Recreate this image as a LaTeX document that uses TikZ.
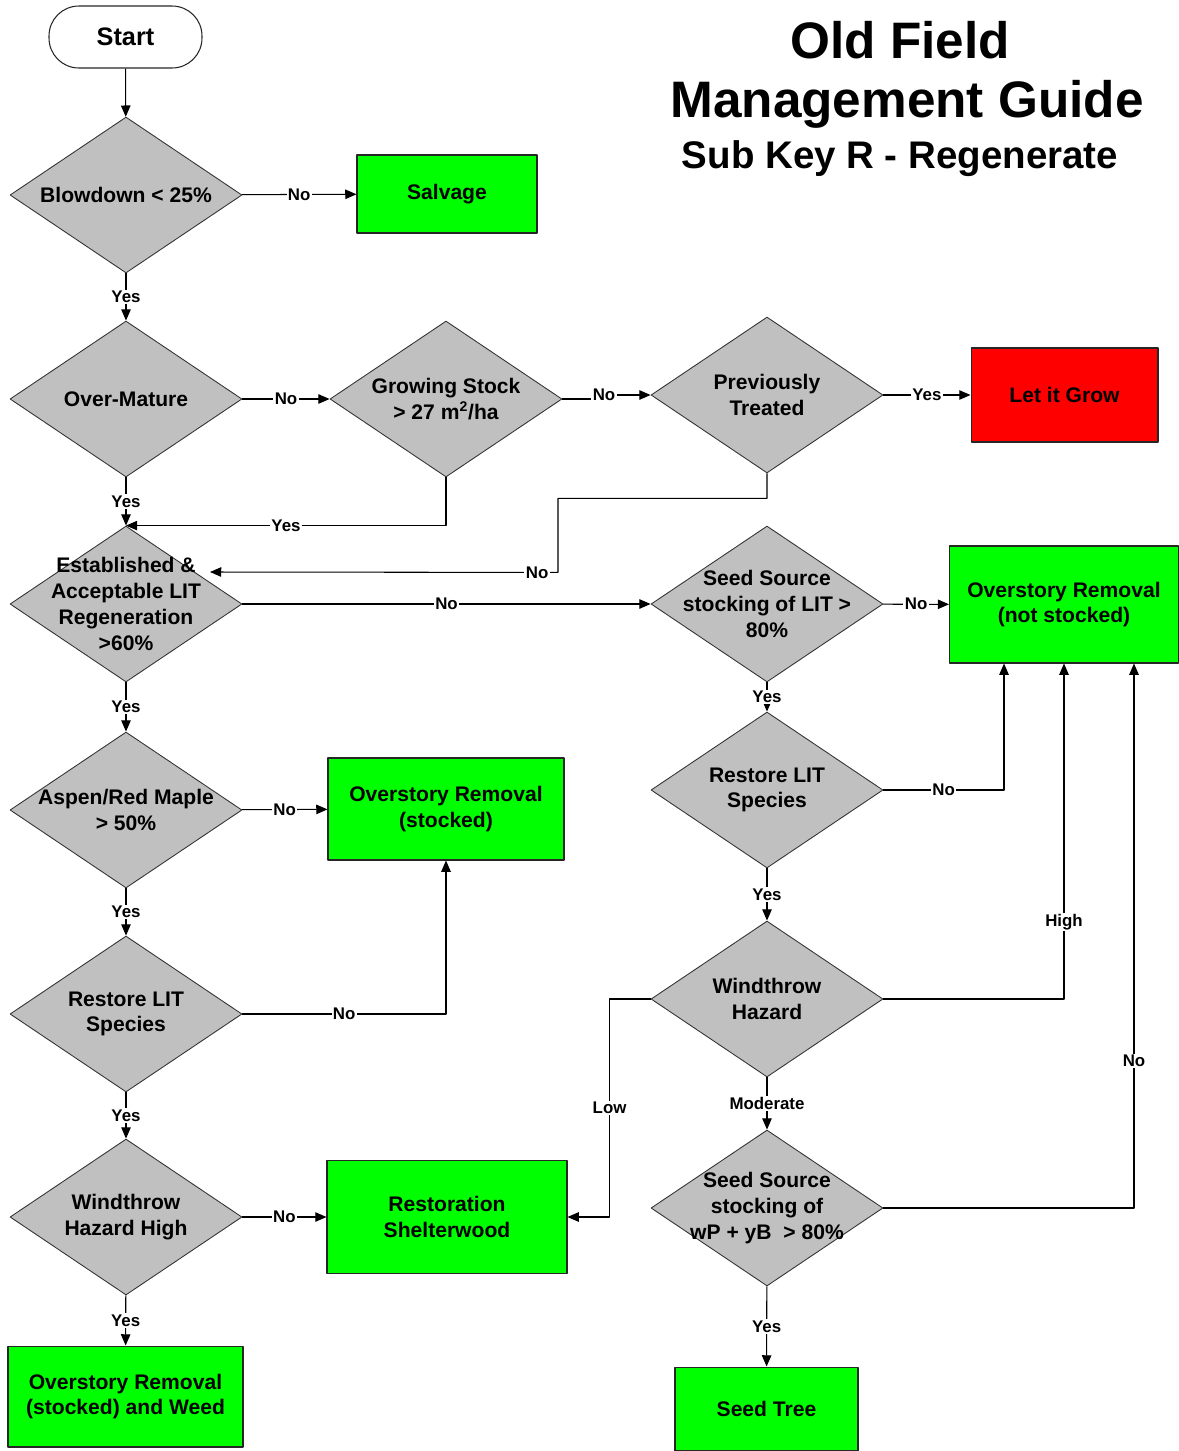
\documentclass[tikz,border=0pt]{standalone}
\usepackage{fontspec}
\setmainfont{Liberation Sans}
\usetikzlibrary{shapes.geometric,arrows.meta}
\definecolor{qgray}{HTML}{C0C0C0}
\definecolor{okgreen}{HTML}{00FF00}
\definecolor{stopred}{HTML}{FF0000}

\begin{document}
\begin{tikzpicture}[x=0.02cm,y=-0.02cm,line join=round,
  dia/.style={diamond,draw=black!80,fill=qgray,line width=0.5pt,inner sep=0pt,
    minimum width=4.64cm,minimum height=3.12cm},
  dtext/.style={align=center,inner sep=0pt,font=\bfseries\fontsize{12}{14.7}\selectfont},
  act/.style={rectangle,draw=black!85,line width=0.6pt,align=center,
    font=\bfseries\fontsize{12}{14.7}\selectfont},
  arr/.style={line width=0.6pt,-{Triangle[length=6.4pt,width=5.4pt]}},
  lbl/.style={fill=white,inner sep=0.8pt,font=\bfseries\fontsize{9.6}{11}\selectfont}]
  \useasboundingbox (0,0) rectangle (1179,1451);

  % title
  \node[font=\bfseries\fontsize{29.2}{34}\selectfont] (ttla) at (900,40) {Old Field};
  \node[font=\bfseries\fontsize{29.2}{34}\selectfont] (ttlb) at (907,104) {Management Guide};
  \node[font=\bfseries\fontsize{21.9}{26}\selectfont] (ttlc) at (900,159) {Sub Key R - Regenerate};

  \node[draw=black!85,line width=0.6pt,rounded corners=17pt,minimum width=3.06cm,minimum height=1.24cm,
    font=\bfseries\fontsize{14.4}{16}\selectfont] (start) at (125.5,37) {Start};

  % questions
  \node[dia,label={[dtext]center:{Blowdown < 25\%}}] (d1) at (126,195) {};
  \node[dia,label={[dtext]center:{Over-Mature}}] (d2) at (126,399) {};
  \node[dia,label={[dtext]center:{Growing Stock\\> 27 m\textsuperscript{2}/ha}}] (d3) at (446,399) {};
  \node[dia,label={[dtext]center:{Previously\\Treated}}] (d4) at (767,395) {};
  \node[dia,label={[dtext]center:{Established \&\\Acceptable LIT\\Regeneration\\>60\%}}] (d5) at (126,604) {};
  \node[dia,label={[dtext]center:{Seed Source\\stocking of LIT >\\80\%}}] (d6) at (767,604) {};
  \node[dia,label={[dtext]center:{Restore LIT\\Species}}] (d7) at (767,790) {};
  \node[dia,label={[dtext]center:{Windthrow\\Hazard}}] (d8) at (767,999) {};
  \node[dia,label={[dtext]center:{Seed Source\\stocking of\\wP + yB \ > 80\%}}] (d9) at (767,1208) {};
  \node[dia,label={[dtext]center:{Aspen/Red Maple\\> 50\%}}] (d10) at (126,810) {};
  \node[dia,label={[dtext]center:{Restore LIT\\Species}}] (d11) at (126,1014) {};
  \node[dia,label={[dtext]center:{Windthrow\\Hazard High}}] (d12) at (126,1217) {};

  % outcomes
  \node[act,fill=okgreen,minimum width=3.6cm,minimum height=1.56cm] (salv) at (447,194) {Salvage};
  \node[act,fill=stopred,minimum width=3.74cm,minimum height=1.88cm] (grow) at (1064.5,395) {Let it Grow};
  \node[act,fill=okgreen,minimum width=4.58cm,minimum height=2.34cm] (orns) at (1064,604.5) {Overstory Removal\\(not stocked)};
  \node[act,fill=okgreen,minimum width=4.72cm,minimum height=2.04cm] (ors) at (446,809) {Overstory Removal\\(stocked)};
  \node[act,fill=okgreen,minimum width=4.8cm,minimum height=2.26cm] (shel) at (447,1217) {Restoration\\Shelterwood};
  \node[act,fill=okgreen,minimum width=4.7cm,minimum height=2.02cm] (orw) at (125.5,1396.5) {Overstory Removal\\(stocked) and Weed};
  \node[act,fill=okgreen,minimum width=3.66cm,minimum height=1.68cm] (seedt) at (766.5,1409) {Seed Tree};

  \coordinate (nod5) at (210,572);

  \draw[arr] (start) -- (d1);
  \draw[arr] (d1) -- node[lbl]{No} (salv);
  \draw[arr] (d1) -- node[lbl]{Yes} (d2);
  \draw[arr] (d2) -- node[lbl]{No} (d3);
  \draw[arr] (d3.east) -- ++(30,0) |- node[lbl,pos=0.6]{No} (d4.west);
  \draw[arr] (d4) -- node[lbl]{Yes} (grow);
  \draw[arr] (d2) -- node[lbl]{Yes} (d5);
  \draw[arr] (d3.south) |- node[lbl,pos=0.75]{Yes} (d5.north);
  \draw[arr] (d4.south) -- ++(0,25) -| ++(-209,74) -- node[lbl,pos=0.06]{No} (nod5);
  \draw[arr] (d5) -- node[lbl]{No} (d6);
  \draw[arr] (d6) -- node[lbl]{No} (orns);
  \draw[arr] (d6) -- node[lbl]{Yes} (d7);
  \draw[arr] (d7.east) -| node[lbl,pos=0.25]{No} ([xshift=-1.2cm]orns.south);
  \draw[arr] (d7) -- node[lbl]{Yes} (d8);
  \draw[arr] (d8.east) -| node[lbl,pos=0.615]{High} (orns.south);
  \draw[arr] (d8.west) -- ++(-41,0) |- node[lbl,pos=0.25]{Low} (shel.east);
  \draw[arr] (d8) -- node[lbl]{Moderate} (d9);
  \draw[arr] (d9.east) -| node[lbl,pos=0.635]{No} ([xshift=1.4cm]orns.south);
  \draw[arr] (d9) -- node[lbl]{Yes} (seedt);
  \draw[arr] (d5) -- node[lbl]{Yes} (d10);
  \draw[arr] (d10) -- node[lbl]{No} (ors);
  \draw[arr] (d10) -- node[lbl]{Yes} (d11);
  \draw[arr] (d11.east) -| node[lbl,pos=0.25]{No} (ors.south);
  \draw[arr] (d11) -- node[lbl]{Yes} (d12);
  \draw[arr] (d12) -- node[lbl]{No} (shel);
  \draw[arr] (d12) -- node[lbl]{Yes} (orw);
\end{tikzpicture}
\end{document}
